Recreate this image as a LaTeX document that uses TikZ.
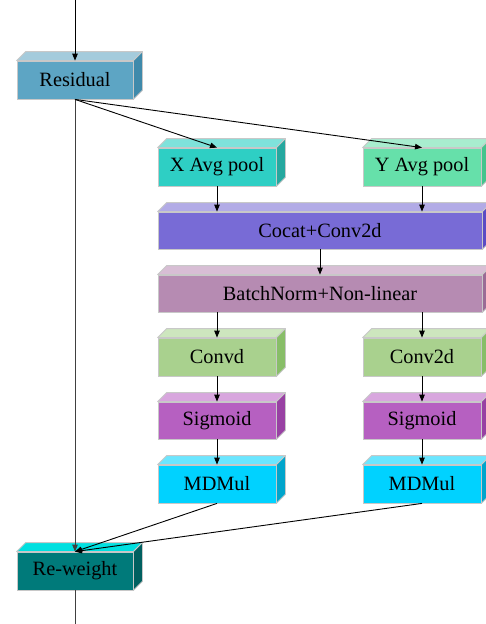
\documentclass[tikz,border=0pt]{standalone}
\usepackage{fontspec}
\setmainfont{Liberation Serif}
\usetikzlibrary{arrows.meta}
\definecolor{edgec}{HTML}{C8C8C8}
\definecolor{resF}{HTML}{5DA5C4}\definecolor{resT}{HTML}{A4CBDC}\definecolor{resS}{HTML}{3F8AAB}
\definecolor{xpF}{HTML}{2ECFC4}\definecolor{xpT}{HTML}{7FE2DB}\definecolor{xpS}{HTML}{25A89F}
\definecolor{ypF}{HTML}{66E0AA}\definecolor{ypT}{HTML}{A8EDCF}\definecolor{ypS}{HTML}{45C48D}
\definecolor{ccF}{HTML}{786BD6}\definecolor{ccT}{HTML}{B2ABE6}\definecolor{ccS}{HTML}{5B4BC4}
\definecolor{bnF}{HTML}{B68BB2}\definecolor{bnT}{HTML}{D8BED5}\definecolor{bnS}{HTML}{9A6C96}
\definecolor{cvF}{HTML}{A9D18E}\definecolor{cvT}{HTML}{CDE6BE}\definecolor{cvS}{HTML}{88BE68}
\definecolor{sgF}{HTML}{B660C1}\definecolor{sgT}{HTML}{D8A6DE}\definecolor{sgS}{HTML}{9841A3}
\definecolor{mdF}{HTML}{00D2FF}\definecolor{mdT}{HTML}{6BE6FF}\definecolor{mdS}{HTML}{00A5CC}
\definecolor{rwF}{HTML}{007A7A}\definecolor{rwT}{HTML}{00E0E0}\definecolor{rwS}{HTML}{006060}
\tikzset{
  face/.style={draw=edgec, line width=0.8pt, inner sep=0pt, font=\fontsize{20.3}{23}\selectfont},
  arr/.style={-{Triangle[length=7pt,width=5.5pt]}, line width=0.9pt, black},
  mainline/.style={line width=1pt, black!75},
}
\newcommand\boxthreed[6]{%
  \node[face, fill=#5F, minimum width=#3, minimum height=#4] (#1) at #2 {#6};
  \filldraw[fill=#5T, draw=edgec, line width=0.8pt, line join=round]
    (#1.north west) -- ([shift={(9pt,9pt)}]#1.north west) -- ([shift={(9pt,9pt)}]#1.north east) -- (#1.north east) -- cycle;
  \filldraw[fill=#5S, draw=edgec, line width=0.8pt, line join=round]
    (#1.north east) -- ([shift={(9pt,9pt)}]#1.north east) -- ([shift={(9pt,9pt)}]#1.south east) -- (#1.south east) -- cycle;
}
\begin{document}
\begin{tikzpicture}[x=1pt,y=-1pt]
\useasboundingbox (0,0) rectangle (486,624);
\boxthreed{res}{(75,80)}{116pt}{38pt}{res}{Residual}
\boxthreed{xp}{(217,167)}{118pt}{38pt}{xp}{X Avg pool}
\boxthreed{yp}{(422,167)}{118pt}{38pt}{yp}{Y Avg pool}
\boxthreed{cc}{(320,230.5)}{324pt}{37pt}{cc}{Cocat+Conv2d}
\boxthreed{bn}{(320,293.5)}{324pt}{37pt}{bn}{BatchNorm+Non-linear}
\boxthreed{cva}{(217,357)}{118pt}{38pt}{cv}{Convd}
\boxthreed{cvb}{(422,357)}{118pt}{38pt}{cv}{Conv2d}
\boxthreed{sga}{(217,420.5)}{118pt}{37pt}{sg}{Sigmoid}
\boxthreed{sgb}{(422,420.5)}{118pt}{37pt}{sg}{Sigmoid}
\boxthreed{mda}{(217,484)}{118pt}{38pt}{md}{MDMul}
\boxthreed{mdb}{(422,484)}{118pt}{38pt}{md}{MDMul}
\boxthreed{rw}{(75,571)}{116pt}{38pt}{rw}{Re-weight}
\coordinate (top) at (75,0);
\coordinate (bot) at (75,624);
\draw[arr] (top) -- (res.north);
\draw[arr, mainline] (res.south) -- (rw.north);
\draw[arr] (res.south) -- (xp.north);
\draw[arr] (res.south) -- (yp.north);
\draw[arr] (xp.south) -- (xp.south |- cc.north);
\draw[arr] (yp.south) -- (yp.south |- cc.north);
\draw[arr] (cc.south) -- (bn.north);
\draw[arr] (cva.north |- bn.south) -- (cva.north);
\draw[arr] (cvb.north |- bn.south) -- (cvb.north);
\draw[arr] (cva) -- (sga);
\draw[arr] (cvb) -- (sgb);
\draw[arr] (sga) -- (mda);
\draw[arr] (sgb) -- (mdb);
\draw[arr] (mda.south) -- (rw.north);
\draw[arr] (mdb.south) -- (rw.north);
\draw[mainline] (rw.south) -- (bot);
\end{tikzpicture}
\end{document}
